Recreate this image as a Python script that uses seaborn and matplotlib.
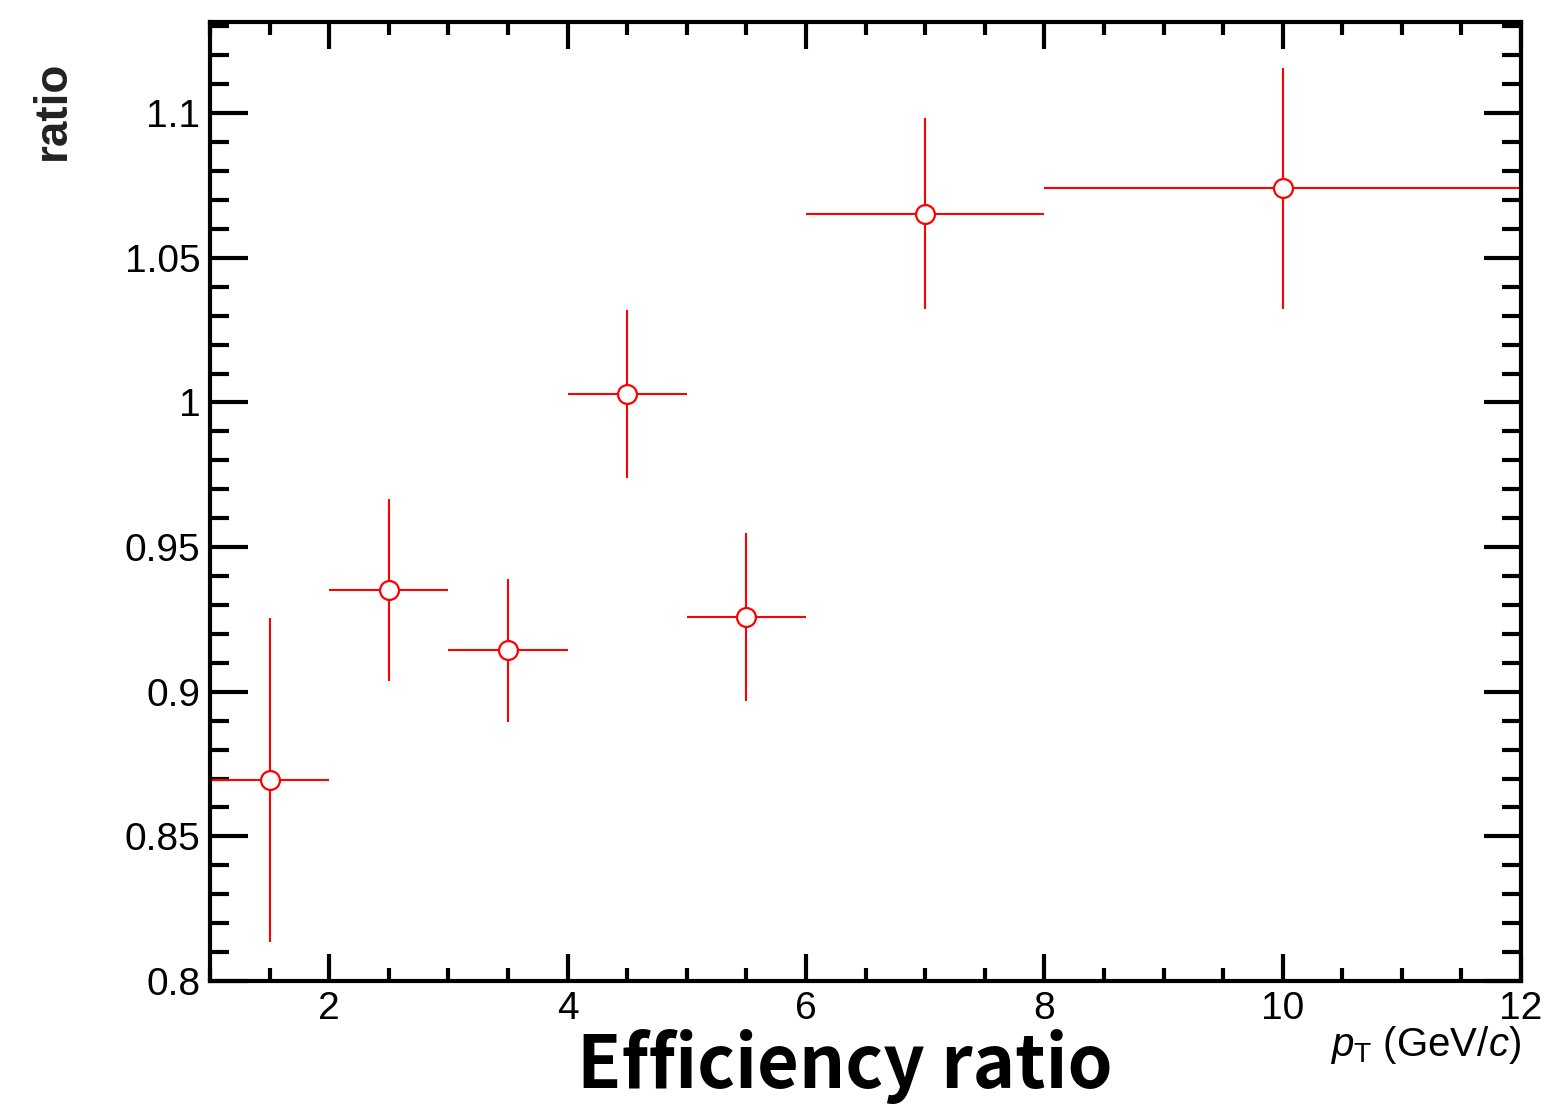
import matplotlib
matplotlib.use("Agg")
import matplotlib.pyplot as plt
import numpy as np
import pandas as pd
import seaborn as sns
from matplotlib.ticker import MultipleLocator

# pT bins (GeV/c) and measured efficiency ratio
bin_lo = [1, 2, 3, 4, 5, 6, 8]
bin_hi = [2, 3, 4, 5, 6, 8, 12]
pt = [1.5, 2.5, 3.5, 4.5, 5.5, 7.0, 10.0]
ratio = [0.8696, 0.9351, 0.9143, 1.0030, 0.9257, 1.0653, 1.0740]
ratio_err = [0.0560, 0.0315, 0.0248, 0.0290, 0.0290, 0.0330, 0.0416]

sns.set_theme(style="ticks")
plt.rcParams["font.family"] = ["Liberation Sans", "DejaVu Sans"]
plt.rcParams["mathtext.fontset"] = "custom"
plt.rcParams["mathtext.rm"] = "Liberation Sans"
plt.rcParams["mathtext.it"] = "Liberation Sans:italic"
plt.rcParams["text.color"] = "black"

df = pd.DataFrame({"pt": pt, "ratio": ratio, "err": ratio_err,
                   "lo": bin_lo, "hi": bin_hi})

fig = plt.figure(figsize=(15.48, 11.06), dpi=100)
ax = fig.add_axes([0.1357, 0.1130, 0.9826 - 0.1357, 0.9801 - 0.1130])

xerr = np.array([df.pt - df.lo, df.hi - df.pt])
ax.errorbar(df.pt, df.ratio, xerr=xerr, yerr=df.err, fmt="none",
            ecolor="red", elinewidth=1.5, capsize=0, zorder=2)
sns.scatterplot(data=df, x="pt", y="ratio", ax=ax, marker="o", s=185,
                facecolor="white", edgecolor="red", linewidth=1.6, zorder=3,
                legend=False)

ax.set_xlim(1, 12)
ax.set_ylim(0.8, 1.1315)
ax.xaxis.set_major_locator(MultipleLocator(2))
ax.xaxis.set_minor_locator(MultipleLocator(0.5))
ax.yaxis.set_major_locator(MultipleLocator(0.05))
ax.yaxis.set_minor_locator(MultipleLocator(0.01))
ax.yaxis.set_major_formatter(matplotlib.ticker.FuncFormatter(lambda v, p: f"{v:g}"))

for s in ax.spines.values():
    s.set_linewidth(3)
    s.set_color("black")
ax.tick_params(axis="both", which="both", direction="in", width=3,
               top=True, right=True, colors="black", labelsize=28)
ax.tick_params(axis="x", which="major", length=19.5, pad=7)
ax.tick_params(axis="x", which="minor", length=9.5)
ax.tick_params(axis="y", which="major", length=27, pad=7)
ax.tick_params(axis="y", which="minor", length=14)

ax.set_xlabel("")
ax.set_ylabel("")
fig.text(0.9826, 1 - 1024 / 1106, r"$p_{\mathrm{T}}$ (GeV/$c$)", ha="right",
         va="top", fontsize=29)
fig.text(53 / 1548, 1 - 110 / 1106, "ratio", rotation=90, ha="center",
         va="center", fontsize=33, fontweight="bold", color="#222222")
fig.text(845 / 1548, 1 - 1066 / 1106, "Efficiency ratio", ha="center",
         va="center", fontsize=52, fontweight="bold", color="black",
         family=["Noto Sans CJK JP", "DejaVu Sans"])

fig.savefig("out.png", dpi=100)
